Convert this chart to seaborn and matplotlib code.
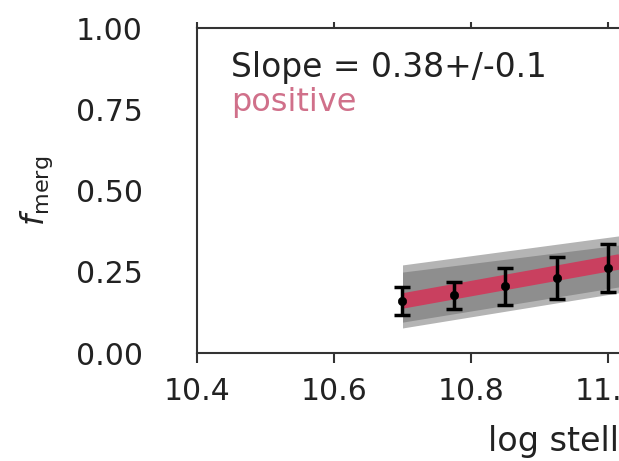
import numpy as np
import pandas as pd
import matplotlib
matplotlib.use("Agg")
import matplotlib.pyplot as plt
import seaborn as sns

# Binned merger fractions
mass_bins = [10.70, 10.775, 10.85, 10.925, 11.00]
f_merg = [0.160, 0.178, 0.205, 0.230, 0.262]
f_err = [0.042, 0.042, 0.057, 0.065, 0.074]

# Best-fit line and spread of fit samples
fit_x = [10.70, 11.05]
fit_y = [0.160, 0.293]
outer_lo = [0.077, 0.197]
outer_hi = [0.271, 0.370]
inner_lo = [0.095, 0.215]
inner_hi = [0.249, 0.341]

x_ticks = [10.4, 10.6, 10.8, 11.0, 11.2, 11.4, 11.6]
y_ticks = [0.00, 0.25, 0.50, 0.75, 1.00]

sns.set_theme(style="ticks")
plt.rcParams["font.family"] = ["DejaVu Sans"]
plt.rcParams["mathtext.fontset"] = "dejavusans"

fig = plt.figure(figsize=(6.19, 4.61), dpi=100)
ax = fig.add_axes([197 / 619, 108 / 461, 822 / 619, 325 / 461])

ax.fill_between(fit_x, outer_lo, outer_hi, color="#b4b4b4", lw=0, zorder=1)
ax.fill_between(fit_x, inner_lo, inner_hi, color="#8e8e8e", lw=0, zorder=2)

fit_df = pd.DataFrame({"mass": fit_x, "f": fit_y})
sns.lineplot(data=fit_df, x="mass", y="f", ax=ax, color="#c9405f",
             lw=11, solid_capstyle="butt", zorder=3)

pts = pd.DataFrame({"mass": mass_bins, "f": f_merg, "err": f_err})
ax.errorbar(pts["mass"], pts["f"], yerr=pts["err"], fmt="none",
            ecolor="black", elinewidth=2.5, capsize=5.5, capthick=2.5, zorder=4)
sns.scatterplot(data=pts, x="mass", y="f", ax=ax, color="black", s=36,
                edgecolor="black", zorder=5, legend=False)

ax.set_xlim(10.4, 11.6)
ax.set_ylim(0, 1)
ax.set_xticks(x_ticks)
ax.set_yticks(y_ticks)
ax.set_xticklabels([f"{v:.1f}" for v in x_ticks])
ax.set_yticklabels([f"{v:.2f}" for v in y_ticks])

for s in ax.spines.values():
    s.set_linewidth(1.5)
    s.set_color("#333333")

ax.tick_params(axis="x", which="both", bottom=True, top=True, direction="out",
               length=7, width=1.5, color="#333333", labelsize=21.5,
               labelcolor="#222222", pad=10)
ax.tick_params(axis="y", length=0, labelsize=21.5, labelcolor="#222222", pad=39)

# short ticks along the top spine
for tl in ax.xaxis.get_ticklines():
    if tl.get_marker() == matplotlib.lines.TICKUP:
        tl.set_markersize(4.5)

ax.set_xlabel("log stellar mass", fontsize=24, color="#222222", ha="left")
ax.xaxis.set_label_coords((488 - 197) / 822, -0.222)
ax.set_ylabel(r"$f_{\rm merg}$", fontsize=23, color="#222222", labelpad=15)

ax.text(0.0414, 0.93, "Slope = 0.38+/-0.1", transform=ax.transAxes,
        fontsize=23.7, color="#222222", ha="left", va="top")
ax.text(0.0414, 0.82, "positive", transform=ax.transAxes,
        fontsize=23, color="#d0708a", ha="left", va="top")

fig.savefig("out.png", dpi=100)
